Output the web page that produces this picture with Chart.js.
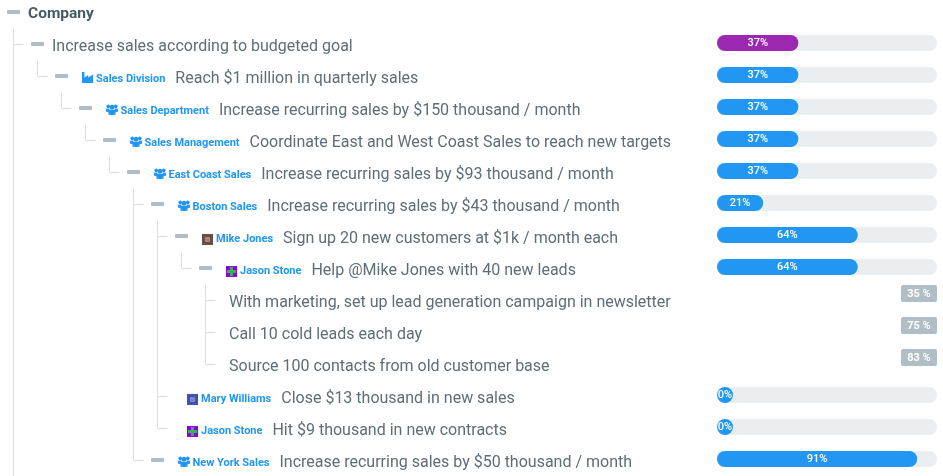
<!DOCTYPE html>
<html>
<head>
<meta charset="utf-8">
<style>
html,body{margin:0;padding:0;background:#fff;overflow:hidden}
#wrap{position:absolute;left:0;top:0;width:943px;height:476px}
</style>
<script src="https://cdn.jsdelivr.net/npm/chart.js@4"></script>
</head>
<body>
<div id="wrap"><canvas id="c" width="943" height="476"></canvas></div>
<script>
const categories = [
  "Company",
  "Increase sales according to budgeted goal",
  "Reach $1 million in quarterly sales",
  "Increase recurring sales by $150 thousand / month",
  "Coordinate East and West Coast Sales to reach new targets",
  "Increase recurring sales by $93 thousand / month",
  "Increase recurring sales by $43 thousand / month",
  "Sign up 20 new customers at $1k / month each",
  "Help @Mike Jones with 40 new leads",
  "With marketing, set up lead generation campaign in newsletter",
  "Call 10 cold leads each day",
  "Source 100 contacts from old customer base",
  "Close $13 thousand in new sales",
  "Hit $9 thousand in new contracts",
  "Increase recurring sales by $50 thousand / month"
];
const owners = [null,null,"Sales Division","Sales Department","Sales Management","East Coast Sales","Boston Sales","Mike Jones","Jason Stone",null,null,null,"Mary Williams","Jason Stone","New York Sales"];
const ownerKinds = [null,null,"factory","users","users","users","users","mike","jason",null,null,null,"mary","jason","users"];
const parents = [null,0,1,2,3,4,5,6,7,8,8,8,6,6,5];
const progress = [null,37,37,37,37,37,21,64,64,null,null,null,0,0,91];
const track = [null,100,100,100,100,100,100,100,100,null,null,null,100,100,100];
const taskPercents = [null,null,null,null,null,null,null,null,null,35,75,83,null,null,null];
const collapsible = [true,true,true,true,true,true,true,true,true,false,false,false,false,false,true];

const BLUE = "#2196f3", PURPLE = "#9c27b0", TRACK = "#ebeef1", GREY = "#b0bec5", LINE = "#dcdfe1", TEXT = "#5d6e77", DARK = "#455a64";

function levelOf(i){ let l = 0, p = parents[i]; while(p !== null){ l++; p = parents[p]; } return l; }

function drawUsers(ctx, x, y){
  ctx.fillStyle = BLUE;
  const circle = (cx, cy, r) => { ctx.beginPath(); ctx.arc(cx, cy, r, 0, Math.PI*2); ctx.fill(); };
  circle(x+2.2, y+2.4, 1.8); circle(x+9.8, y+2.4, 1.8); circle(x+6, y+3.2, 2.5);
  ctx.beginPath(); ctx.roundRect(x, y+4.6, 3.4, 3.4, 1); ctx.fill();
  ctx.beginPath(); ctx.roundRect(x+8.6, y+4.6, 3.4, 3.4, 1); ctx.fill();
  ctx.beginPath(); ctx.roundRect(x+2.4, y+6, 7.2, 5, 1.4); ctx.fill();
}
function drawFactory(ctx, x, y){
  ctx.fillStyle = BLUE;
  ctx.beginPath();
  ctx.moveTo(x, y); ctx.lineTo(x+2.4, y); ctx.lineTo(x+2.4, y+5.4);
  ctx.lineTo(x+6.2, y+3); ctx.lineTo(x+6.2, y+5.4); ctx.lineTo(x+11, y+2.6);
  ctx.lineTo(x+11, y+11); ctx.lineTo(x, y+11); ctx.closePath(); ctx.fill();
}
function drawAvatar(ctx, kind, x, y){
  if(kind === "mike"){
    ctx.fillStyle = "#6d4c41"; ctx.fillRect(x, y, 11, 11);
    ctx.fillStyle = "#a1887f"; ctx.fillRect(x+3, y+3, 5, 5);
  } else if(kind === "mary"){
    ctx.fillStyle = "#3f51b5"; ctx.fillRect(x, y, 11, 11);
    ctx.fillStyle = "#7986cb"; ctx.fillRect(x+3, y+3, 5, 5);
  } else {
    ctx.fillStyle = "#8a00e0"; ctx.fillRect(x, y, 11, 11);
    ctx.fillStyle = "#3fae5a"; ctx.fillRect(x+4, y+1, 3, 9); ctx.fillRect(x+1, y+4, 9, 3);
  }
}

const treePlugin = {
  id: "treePlugin",
  afterDatasetsDraw(chart){
    const ctx = chart.ctx, ys = chart.scales.y;
    const cy = i => ys.getPixelForValue(i);
    ctx.save();
    ctx.textBaseline = "middle";
    ctx.textAlign = "left";
    // connectors
    ctx.strokeStyle = LINE; ctx.lineWidth = 1;
    categories.forEach((_, i) => {
      const p = parents[i];
      if(p === null) return;
      const tx = Math.round(13 + 24*(levelOf(i)-1)) + 0.5, ry = Math.round(cy(i)+1) + 0.5;
      ctx.beginPath();
      ctx.moveTo(tx, Math.round(cy(p)+18)); ctx.lineTo(tx, ry); ctx.lineTo(tx+10, ry);
      ctx.stroke();
    });
    ctx.beginPath(); ctx.moveTo(13.5, 29); ctx.lineTo(13.5, chart.height); ctx.stroke();
    // rows
    categories.forEach((label, i) => {
      const lvl = levelOf(i), c = cy(i);
      const treeX = 13 + 24*(lvl-1);
      let x;
      if(collapsible[i]){
        const dx = 7 + 24*lvl;
        ctx.fillStyle = GREY;
        ctx.beginPath(); ctx.roundRect(dx, c-1, 13, 4, 1); ctx.fill();
        x = dx + 21;
      } else {
        x = treeX + 24;
      }
      if(owners[i]){
        let ix = collapsible[i] ? 7 + 24*lvl + 27 : treeX + 30;
        const kind = ownerKinds[i];
        if(kind === "factory") drawFactory(ctx, ix, c-3);
        else if(kind === "users") drawUsers(ctx, ix, c-3);
        else drawAvatar(ctx, kind, ix, c-1);
        const nx = ix + (kind === "users" ? 14.5 : 14);
        ctx.font = "bold 11px Roboto";
        ctx.fillStyle = BLUE;
        ctx.fillText(owners[i], nx, c+4.5);
        x = nx + ctx.measureText(owners[i]).width + 10;
      }
      if(i === 0){ ctx.font = "bold 15.5px Roboto"; ctx.fillStyle = DARK; }
      else { ctx.font = "16px Roboto"; ctx.fillStyle = TEXT; }
      ctx.fillText(label, x, c+3.5);
      // task percent badges
      if(taskPercents[i] !== null){
        const right = chart.scales.x.getPixelForValue(100);
        ctx.fillStyle = GREY;
        ctx.beginPath(); ctx.roundRect(right-36, c-14, 36, 17, 2); ctx.fill();
        ctx.fillStyle = "#fff"; ctx.font = "bold 11px Roboto"; ctx.textAlign = "center";
        ctx.fillText(taskPercents[i] + " %", right-18, c-5);
        ctx.textAlign = "left";
      }
    });
    // progress labels
    const meta = chart.getDatasetMeta(0);
    ctx.fillStyle = "#fff"; ctx.textAlign = "center";
    ctx.font = "500 11px Roboto";
    progress.forEach((v, i) => {
      if(v === null) return;
      const el = meta.data[i];
      ctx.fillText(v + "%", (el.base + el.x)/2, el.y + 0.5);
    });
    ctx.restore();
  }
};

new Chart(document.getElementById("c"), {
  type: "bar",
  data: {
    labels: categories,
    datasets: [
      { label: "Progress", data: progress, order: 0, grouped: false, clip: false,
        backgroundColor: progress.map((v, i) => i === 1 ? PURPLE : BLUE),
        barThickness: 16, minBarLength: 16, borderRadius: 8, borderSkipped: false, inflateAmount: 0 },
      { label: "Track", data: track, order: 1, grouped: false, clip: false,
        backgroundColor: TRACK,
        barThickness: 16, borderRadius: 8, borderSkipped: false, inflateAmount: 0 }
    ]
  },
  options: {
    indexAxis: "y",
    responsive: false,
    animation: false,
    devicePixelRatio: 1,
    layout: { padding: { left: 717, right: 6, top: 11, bottom: 17 } },
    plugins: { legend: { display: false }, tooltip: { enabled: false } },
    scales: {
      x: { type: "linear", min: 0, max: 100, display: false },
      y: { type: "category", offset: false, display: false }
    }
  },
  plugins: [treePlugin]
});
</script>
</body>
</html>
